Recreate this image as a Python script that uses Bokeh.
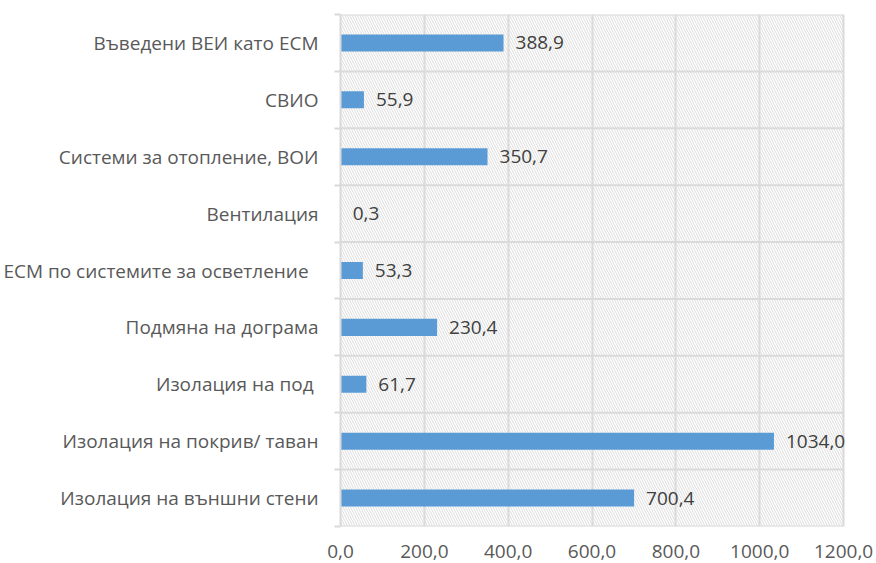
from bokeh.plotting import figure
from bokeh.models import ColumnDataSource, FixedTicker, BoxAnnotation, Range1d, LabelSet
from bokeh.core.properties import value
from bokeh.embed import file_html
from bokeh.resources import INLINE

categories = [
    "Изолация на външни стени",
    "Изолация на покрив/ таван",
    "Изолация на под ",
    "Подмяна на дограма",
    "ЕСМ по системите  за осветление ",
    "Вентилация",
    "Системи за отопление, ВОИ",
    "СВИО",
    "Въведени ВЕИ като ЕСМ",
]
values = [700.4, 1034.0, 61.7, 230.4, 53.3, 0.3, 350.7, 55.9, 388.9]
x_ticks = [0, 200, 400, 600, 800, 1000, 1200]

FONT = "Open Sans"
TXT = "#595959"
GRID = "#d9d9d9"

W, H = 876, 563
LEFT, TOP, BOTTOM = 339, 14, 37
AXIS_PX = 504  # pixel length of 0..1200
x_max = x_ticks[-1]
x_end = x_max * (W - LEFT) / AXIS_PX  # frame extends to the right edge so labels are not clipped

ypos = [i + 0.5 for i in range(len(categories))]
bounds = list(range(len(categories) + 1))
labels = [f"{v:.1f}".replace(".", ",") for v in values]
src = ColumnDataSource(dict(y=ypos, v=values, lab=labels))

p = figure(width=W, height=H, output_backend="svg", toolbar_location=None,
           x_range=Range1d(0, x_end), y_range=Range1d(0, len(categories)),
           min_border_left=LEFT, min_border_right=0, min_border_top=TOP,
           min_border_bottom=BOTTOM, outline_line_color=None,
           background_fill_color="white", border_fill_color="white")

p.add_layout(BoxAnnotation(left=0, right=x_max, fill_alpha=0, line_alpha=0,
                           hatch_pattern="left_diagonal_line",
                           hatch_color="#dcdcdc", hatch_scale=5, hatch_weight=1,
                           level="underlay"))

# horizontal category boundary lines (only across 0..1200)
p.segment(x0=0, x1=x_max, y0=bounds, y1=bounds, line_color=GRID, line_width=2, level="underlay")

p.hbar(y="y", right="v", left=0, height=0.3, source=src,
       fill_color="#5b9bd5", line_color=None)
p.add_layout(LabelSet(x="v", y="y", text="lab", source=src, x_offset=12,
                      text_baseline="middle", text_align="left",
                      text_font=value(FONT), text_font_size=value("19px"),
                      text_color=value("#404040")))

# x axis
p.xaxis.ticker = FixedTicker(ticks=x_ticks)
p.xaxis.major_label_overrides = {t: f"{t:.1f}".replace(".", ",") for t in x_ticks}
p.xaxis.axis_line_color = None
p.xaxis.major_tick_line_color = None
p.xaxis.minor_tick_line_color = None
p.xaxis.major_label_text_font = FONT
p.xaxis.major_label_text_font_size = "19px"
p.xaxis.major_label_text_color = TXT
p.xaxis.major_label_standoff = 12

# y axis: labels at centres, ticks at boundaries
p.yaxis.ticker = FixedTicker(ticks=ypos, minor_ticks=bounds)
p.yaxis.major_label_overrides = {y: c for y, c in zip(ypos, categories)}
p.yaxis.major_tick_line_color = None
p.yaxis.minor_tick_line_color = GRID
p.yaxis.minor_tick_line_width = 2
p.yaxis.minor_tick_out = 6
p.yaxis.minor_tick_in = 0
p.yaxis.axis_line_color = GRID
p.yaxis.axis_line_width = 2
p.yaxis.major_label_text_font = FONT
p.yaxis.major_label_text_font_size = "19px"
p.yaxis.major_label_text_color = TXT
p.yaxis.major_label_standoff = 16

p.xgrid.grid_line_color = GRID
p.xgrid.grid_line_width = 2
p.ygrid.grid_line_color = None

open("out.html", "w").write(file_html(p, INLINE))
